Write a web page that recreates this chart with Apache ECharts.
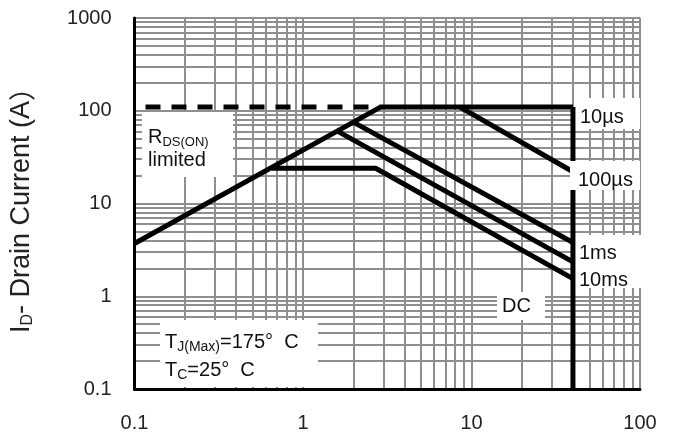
<!DOCTYPE html>
<html>
<head>
<meta charset="utf-8">
<script src="https://cdn.jsdelivr.net/npm/echarts@6/dist/echarts.min.js"></script>
<style>html,body{margin:0;padding:0;background:#fff}#c{width:674px;height:439px}</style>
</head>
<body>
<div id="c"></div>
<script>
// ---- data ----
const xTickLabels = ['0.1', '1', '10', '100'];
const yTickLabels = ['0.1', '1', '10', '100', '1000'];
const gridMantissas = [1, 2, 3, 4, 5, 6, 7, 8, 9];
const xDecades = [0.1, 1, 10];
const yDecades = [0.1, 1, 10, 100];
const rdsLimited = [[0.1, 3.7], [2.9, 110]];
const rdsDashed = [[0.1, 110], [2.9, 110]];
const pulse10us = [[2.9, 110], [40, 110]];
const vdsLimit = [[40, 110], [40, 0.1]];
const pulse100us = [[8.5, 110], [40, 22]];
const pulse1ms = [[2.0, 75], [40, 3.8]];
const pulse10ms = [[1.61, 60], [40, 2.35]];
const dcLine = [[0.65, 24], [2.7, 24], [40, 1.55]];

const FONT = 'Liberation Sans, Arial, Noto Sans CJK SC, sans-serif';
const xGrid = [];
xDecades.forEach(d => gridMantissas.forEach(m => { if (!(d === 0.1 && m === 1)) xGrid.push(+(d * m).toPrecision(6)); }));
xGrid.push(100);
const yGrid = [];
yDecades.forEach(d => gridMantissas.forEach(m => { if (!(d === 0.1 && m === 1)) yGrid.push(+(d * m).toPrecision(6)); }));
yGrid.push(1000);

const chart = echarts.init(document.getElementById('c'));
const lineSeries = (name, data, extra) => Object.assign({
  name, type: 'line', data, symbol: 'none', z: 5, silent: true,
  lineStyle: { color: '#000', width: 5 }, emphasis: { disabled: true }
}, extra || {});

const subRich = {
  m: { fontSize: 20, fontFamily: FONT, color: '#111', lineHeight: 28 },
  s: { fontSize: 13, fontFamily: FONT, color: '#111', padding: [11, 0, 0, 0] },
  t: { fontSize: 14, fontFamily: FONT, color: '#111', padding: [10, 0, 0, 0] }
};
const box = (x, y, w, h, z) => ({ type: 'rect', shape: { x, y, width: w, height: h }, style: { fill: '#fff' }, z: z || 3, silent: true });
const txt = (x, y, text) => ({ type: 'text', x, y, z: 8, silent: true,
  style: { text, rich: subRich, fontSize: 20, fontFamily: FONT, fill: '#111', verticalAlign: 'middle', align: 'left' } });

const fmt = v => { const n = +(+v).toPrecision(6); return yTickLabels.concat(xTickLabels).includes(String(n)) ? String(n) : ''; };

chart.setOption({
  animation: false,
  grid: { left: 133, right: 34, top: 18, bottom: 50 },
  xAxis: {
    type: 'log', logBase: 10, min: 0.1, max: 100, z: 10,
    axisLine: { show: true, lineStyle: { color: '#000', width: 3 } },
    axisTick: { show: false }, splitLine: { show: false },
    axisLabel: { margin: 24, fontSize: 20, fontFamily: FONT, color: '#222', formatter: fmt }
  },
  yAxis: {
    type: 'log', logBase: 10, min: 0.1, max: 1000, z: 10,
    axisLine: { show: true, lineStyle: { color: '#000', width: 3 } },
    axisTick: { show: false }, splitLine: { show: false },
    axisLabel: { margin: 23, fontSize: 20, fontFamily: FONT, color: '#222', formatter: fmt },
    name: '{i|I}{d|D}{t|- Drain Current (A}{p|）}', nameLocation: 'middle', nameGap: 96, nameRotate: 90,
    nameTextStyle: {
      rich: {
        i: { fontSize: 27, fontFamily: FONT, color: '#222', lineHeight: 34 },
        d: { fontSize: 16, fontFamily: FONT, color: '#222', padding: [12, 0, 0, 0] },
        t: { fontSize: 27, fontFamily: FONT, color: '#222', lineHeight: 34 },
        p: { fontSize: 27, fontFamily: 'Noto Sans CJK SC', color: '#222', lineHeight: 34 }
      }
    }
  },
  series: [
    { name: 'grid', type: 'line', data: [], z: 1, silent: true,
      markLine: { silent: true, z: 1, symbol: 'none', animation: false, label: { show: false },
        emphasis: { disabled: true },
        lineStyle: { color: '#8f8f8f', width: 2, type: 'solid' },
        data: xGrid.map(v => ({ xAxis: v })).concat(yGrid.map(v => ({ yAxis: v }))) } },
    lineSeries('RDS(ON) limited', rdsLimited),
    lineSeries('RDS dashed', rdsDashed, { lineStyle: { color: '#000', width: 5, type: [15, 11], dashOffset: 15 } }),
    lineSeries('10us', pulse10us),
    lineSeries('VDS limit', vdsLimit),
    lineSeries('100us', pulse100us),
    lineSeries('1ms', pulse1ms),
    lineSeries('10ms', pulse10ms),
    lineSeries('DC', dcLine)
  ],
  graphic: [
    box(142, 112, 91, 65),
    txt(148, 137, '{m|R}{s|DS(ON)}'),
    txt(148, 160, 'limited'),
    box(160, 320, 158, 67),
    txt(165, 342, '{m|T}{t|J(Max)}{m|=175°  C}'),
    txt(165, 370, '{m|T}{t|C}{m|=25°  C}'),
    box(574, 98, 66, 31),
    txt(580, 117, '10µs'),
    box(570, 161, 70, 29, 6),
    txt(578, 180, '100µs'),
    box(574, 235, 73, 53),
    txt(579, 253, '1ms'),
    txt(579, 280, '10ms'),
    box(497, 292, 48, 28),
    txt(502, 306, 'DC')
  ]
});
</script>
</body>
</html>
